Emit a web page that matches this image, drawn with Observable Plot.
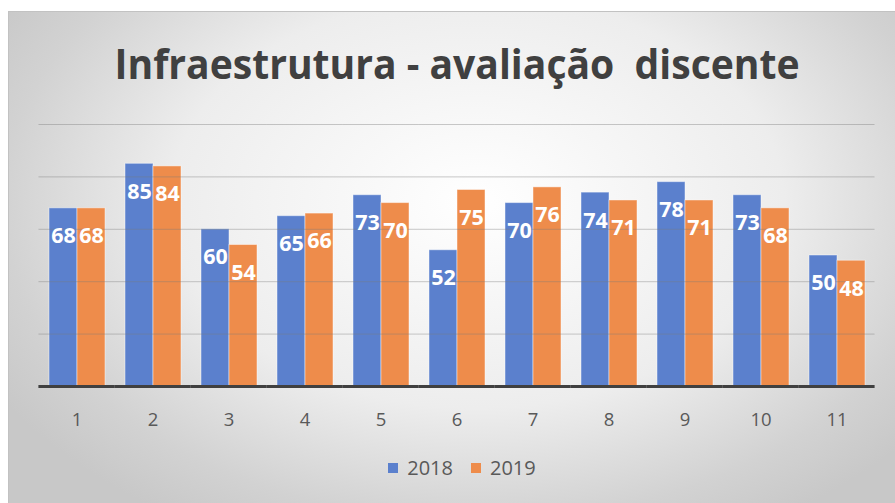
<!DOCTYPE html>
<html><head><meta charset="utf-8">
<script src="https://cdn.jsdelivr.net/npm/d3@7"></script>
<script src="https://cdn.jsdelivr.net/npm/@observablehq/plot@0.6"></script>
<style>
html,body{margin:0;padding:0;width:895px;height:503px;overflow:hidden;background:#fff;}
#card{position:absolute;left:8px;top:11px;width:900px;height:500px;border-top:1px solid #c2c2c2;border-left:1px solid #c2c2c2;
  background:radial-gradient(ellipse 62% 75% at 52% 38%, #ffffff 0%, #ededed 55%, #d2d2d2 85%, #c8c8c8 100%);}
#title{position:absolute;left:10px;top:42px;width:895px;text-align:center;white-space:nowrap;}
#title span{display:inline-block;font-family:"Open Sans",sans-serif;font-weight:700;font-size:42px;line-height:1;color:#404040;transform-origin:50% 50%;}
#chart{position:absolute;left:0;top:100px;}
#legend{position:absolute;left:0;top:454px;width:924px;display:flex;justify-content:center;align-items:center;font-family:"Open Sans",sans-serif;font-size:20px;color:#595959;}
#legend .item{display:flex;align-items:center;margin:0 9px;}
#legend .sw{width:10px;height:10px;margin-right:9px;}
</style></head>
<body>
<div id="card"></div>
<div id="title"><span>Infraestrutura - avaliação  discente</span></div>
<div id="chart"></div>
<div id="legend"></div>
<script>
const categories = ["1","2","3","4","5","6","7","8","9","10","11"];
const years = ["2018","2019"];
const values2018 = [68,85,60,65,73,52,70,74,78,73,50];
const values2019 = [68,84,54,66,70,75,76,71,71,68,48];
const gridTicks = [20,40,60,80,100];
const colors = ["#5b80cd","#ee8c4b"];

const rows = [];
categories.forEach((c,i)=>{
  rows.push({cat:c, year:years[0], value:values2018[i]});
  rows.push({cat:c, year:years[1], value:values2019[i]});
});

// title width fit
const tspan = document.querySelector("#title span");
tspan.style.whiteSpace = "pre";
const w = tspan.getBoundingClientRect().width;
tspan.style.transform = `scaleX(${685/w})`;

const chart = Plot.plot({
  width: 895,
  height: 340,
  marginTop: 24,
  marginBottom: 54,
  marginLeft: 37,
  marginRight: 19,
  style: {background:"transparent", fontFamily:"'Open Sans',sans-serif", fontSize:"18.5px", color:"#595959"},
  fx: {domain: categories, paddingInner: 0.25, paddingOuter: 0.125, axis: "bottom", label: null, tickSize: 0, tickPadding: 26},
  x: {domain: years, axis: null, padding: 0},
  y: {domain: [0,100], axis: null},
  color: {domain: years, range: colors},
  marks: [
    Plot.barY(rows, {fx:"cat", x:"year", y:"value", fill:"year", stroke:"white", strokeOpacity:0.45, strokeWidth:1}),
    Plot.ruleY(gridTicks, {stroke:"#7a7a7a", strokeOpacity:0.4, strokeWidth:1, insetLeft:-9.5, insetRight:-9.5}),
    Plot.ruleY([0], {stroke:"#404040", strokeWidth:3, insetLeft:-9.6, insetRight:-9.6}),
    Plot.text(rows, {fx:"cat", x:"year", y:"value", text:d=>String(d.value), dy:28, fill:"white", fontWeight:"bold", fontSize:21.5})
  ]
});
document.getElementById("chart").appendChild(chart);

const legend = document.getElementById("legend");
years.forEach((y,i)=>{
  const it = document.createElement("div"); it.className="item";
  const sw = document.createElement("div"); sw.className="sw"; sw.style.background=colors[i];
  const tx = document.createElement("span"); tx.textContent=y;
  it.appendChild(sw); it.appendChild(tx); legend.appendChild(it);
});
</script>
</body></html>
